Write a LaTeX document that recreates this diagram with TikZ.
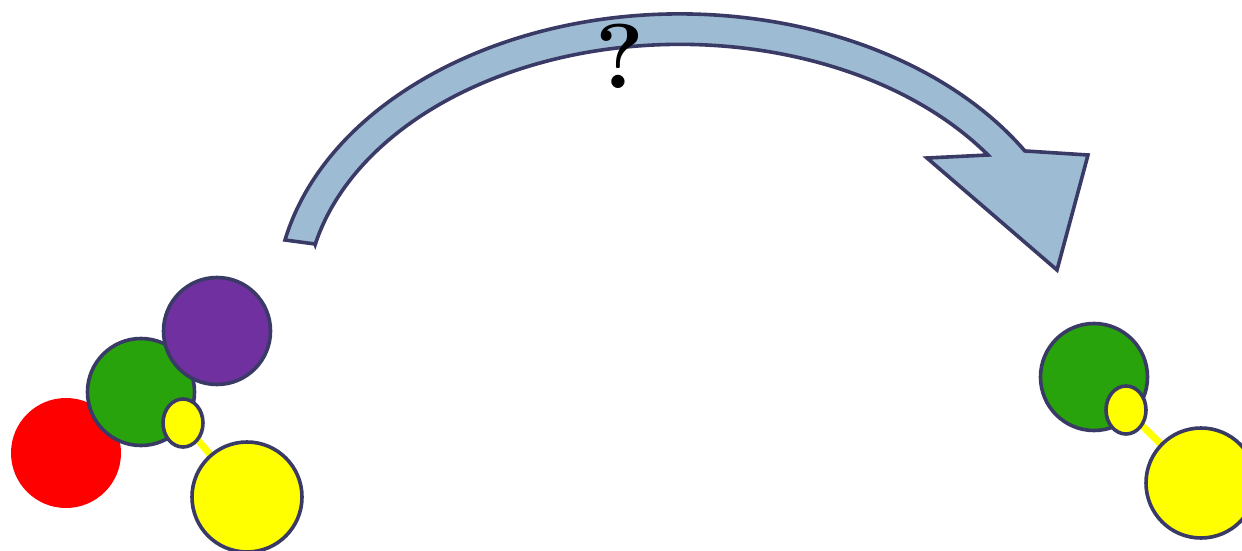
\documentclass[tikz,border=0pt]{standalone}
\usepackage{tikz}
\usetikzlibrary{backgrounds,shapes.geometric}
\definecolor{rim}{HTML}{3A3A66}
\definecolor{skyarrow}{HTML}{9DBCD3}
\definecolor{atomgreen}{HTML}{29A30C}
\definecolor{atompurple}{HTML}{7030A0}
\definecolor{atomred}{HTML}{FF0000}
\definecolor{atomyellow}{HTML}{FFFF00}
\tikzset{
  every picture/.style={line width=1.8pt},
  atom/.style={circle, draw=rim, inner sep=0pt, minimum size=107pt*0.5},
  bigatom/.style={atom, minimum size=110pt*0.5},
  dot/.style={ellipse, draw=rim, fill=atomyellow, inner sep=0pt,
              minimum width=20pt, minimum height=24pt},
  link/.style={draw=atomyellow, line width=3.5pt},
  arrowbody/.style={draw=rim, fill=skyarrow, line join=miter},
}

\begin{document}
\begin{tikzpicture}[x=0.5pt,y=-0.5pt]
  \useasboundingbox (0,0) rectangle (1242,551);
  % curved arrow
  \draw[arrowbody] (315,244) -- (285,240)
    arc[start angle=192.1, end angle=328.6, x radius=404, y radius=286]
    -- (1088,155) -- (1057,270) -- (927,158) -- (988,155)
    arc[start angle=325.4, end angle=192.6, x radius=374, y radius=256]
    -- cycle;
  \node (ask) at (620,56) {\fontsize{46}{50}\selectfont\bfseries ?};
  % left molecule
  \node[bigatom, draw=none, fill=atomred] (red) at (66,453) {};
  \node[atom, fill=atomgreen] (greenL) at (141,392) {};
  \node[atom, fill=atompurple] (purple) at (217,331) {};
  \node[bigatom, fill=atomyellow] (yellowL) at (247,497) {};
  \node[dot] (dotL) at (183,423) {};
  % right molecule
  \node[atom, fill=atomgreen] (greenR) at (1094,377) {};
  \node[bigatom, fill=atomyellow] (yellowR) at (1201,483) {};
  \node[dot] (dotR) at (1126,410) {};
  \begin{scope}[on background layer]
    \draw[link] (dotL.center) -- (yellowL.center);
    \draw[link] (dotR.center) -- (yellowR.center);
  \end{scope}
\end{tikzpicture}
\end{document}
